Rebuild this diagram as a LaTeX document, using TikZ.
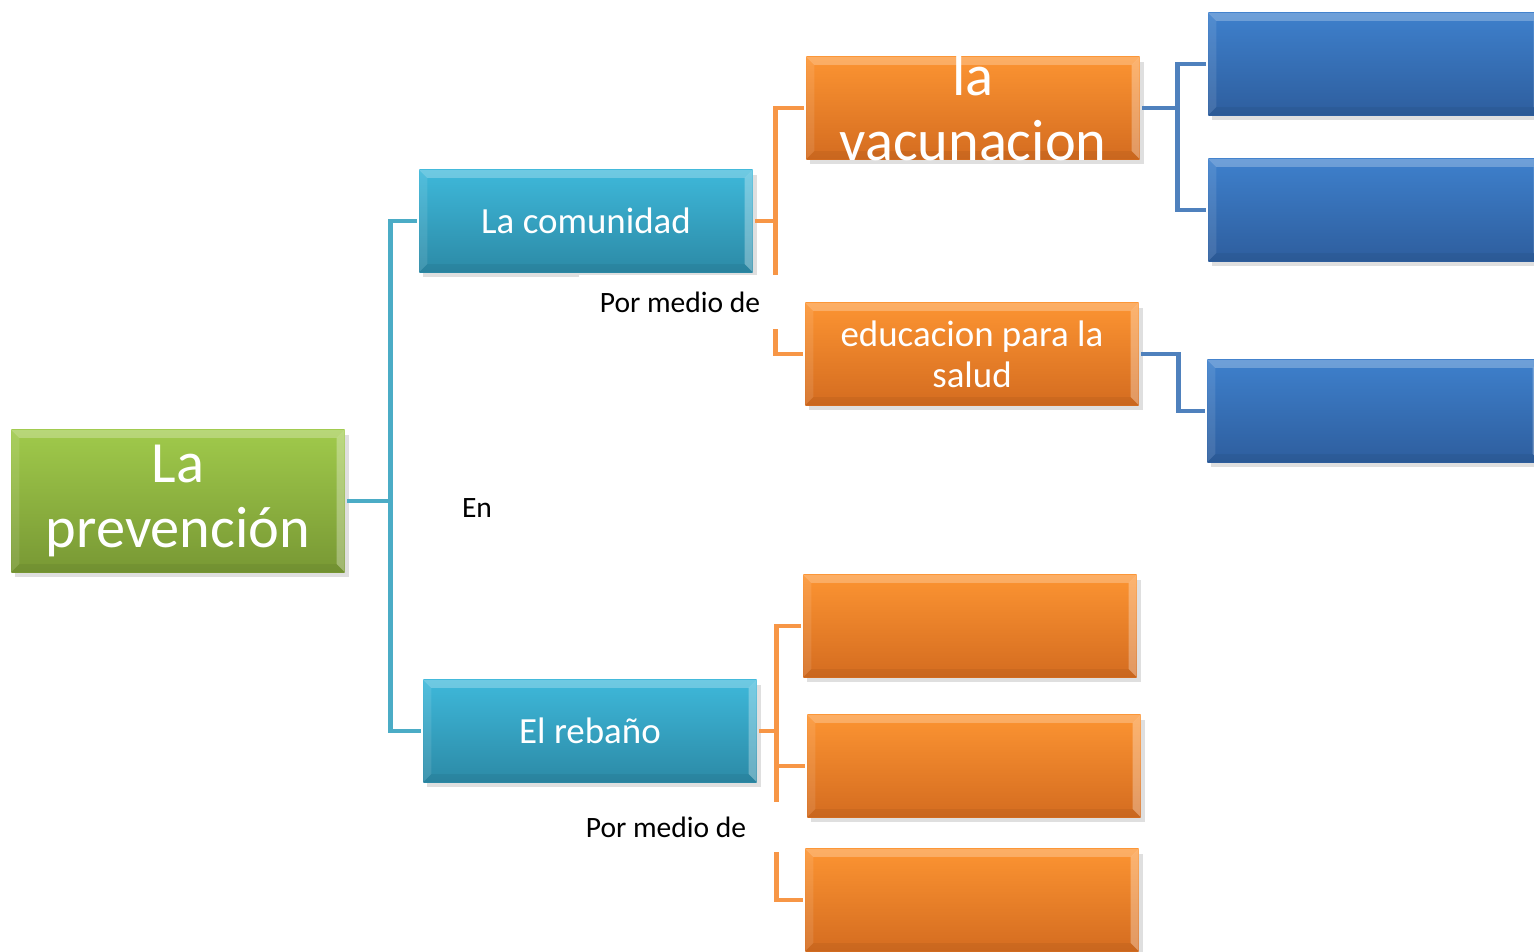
\documentclass[tikz,border=0pt]{standalone}
\usepackage{fontspec}
\setmainfont{Carlito}
\usetikzlibrary{positioning,shadows}

\definecolor{grTop}{RGB}{160,202,75}
\definecolor{grBot}{RGB}{120,152,52}
\definecolor{cyTop}{RGB}{62,184,218}
\definecolor{cyBot}{RGB}{44,138,166}
\definecolor{orTop}{RGB}{252,148,50}
\definecolor{orBot}{RGB}{212,108,32}
\definecolor{blTop}{RGB}{62,128,204}
\definecolor{blBot}{RGB}{46,94,158}
\definecolor{cyLine}{RGB}{75,172,198}
\definecolor{orLine}{RGB}{247,150,70}
\definecolor{blLine}{RGB}{79,129,189}

\begin{document}
\begin{tikzpicture}[
    x = 0.01cm,
    y = -0.01cm,
    line width = 1.4pt,
    bevel/.style = {path picture={
        \coordinate (pnw) at (path picture bounding box.north west);
        \coordinate (pne) at (path picture bounding box.north east);
        \coordinate (pse) at (path picture bounding box.south east);
        \coordinate (psw) at (path picture bounding box.south west);
        \coordinate (inw) at ([shift={(0.8mm,-0.8mm)}]pnw);
        \coordinate (ine) at ([shift={(-0.8mm,-0.8mm)}]pne);
        \coordinate (ise) at ([shift={(-0.8mm,0.8mm)}]pse);
        \coordinate (isw) at ([shift={(0.8mm,0.8mm)}]psw);
        \fill[white, opacity=.25] (pnw) -- (pne) -- (ine) -- (inw) -- cycle;
        \fill[white, opacity=.1] (pnw) -- (inw) -- (isw) -- (psw) -- cycle;
        \fill[white, opacity=.3] (pne) -- (ine) -- (ise) -- (pse) -- cycle;
        \fill[black, opacity=.05] (psw) -- (isw) -- (ise) -- (pse) -- cycle;
    }},
    box/.style = {rectangle, bevel, minimum width=3.33cm, minimum height=1.02cm,
        inner sep=2pt, align=center, text=white,
        font=\fontsize{10.5}{11.6}\selectfont,
        drop shadow={shadow xshift=0.4mm, shadow yshift=-0.5mm, opacity=0.25}},
    greenbox/.style = {box, top color=grTop, bottom color=grBot,
        minimum height=1.42cm, font=\fontsize{16.6}{18.6}\selectfont},
    cyanbox/.style = {box, top color=cyTop, bottom color=cyBot},
    orangebox/.style = {box, top color=orTop, bottom color=orBot},
    bluebox/.style = {box, top color=blTop, bottom color=blBot},
    bigtext/.style = {text=white, align=center, font=\fontsize{16.6}{18.6}\selectfont},
    cyanline/.style = {draw=cyLine},
    orangeline/.style = {draw=orLine},
    blueline/.style = {draw=blLine},
    note/.style = {fill=white, inner sep=0pt, font=\fontsize{8.4}{10}\selectfont}
]
    \clip (0,0) rectangle (1534,952);

    % boxes
    \node[greenbox] (prev) at (178,501) {La\\prevención};
    \node[cyanbox] (com) at (586,221) {La comunidad};
    \node[cyanbox] (reb) at (590,731) {El rebaño};

    \node[orangebox] (vac) at (973,108) {};
    \node[bigtext] (vactxt) at (vac) {la\\vacunacion};
    \node[orangebox] (edu) at (972,354) {educacion para la\\salud};
    \node[orangebox] (o1) at (970,626) {};
    \node[orangebox] (o2) at (974,766) {};
    \node[orangebox] (o3) at (972,900) {};

    \node[bluebox] (b1) at (1375,64) {};
    \node[bluebox] (b2) at (1375,210) {};
    \node[bluebox] (b3) at (1374,411) {};

    % connectors
    \draw[cyanline] (prev.east) -- ++(43,0) coordinate (cy) |- (com.west);
    \draw[cyanline] (cy) |- (reb.west);

    \draw[orangeline] (com.east) -- ++(20,0) coordinate (oc) |- (vac.west);
    \draw[orangeline] (oc) |- (edu.west);

    \draw[blueline] (vac.east) -- ++(35,0) coordinate (bv) |- (b1.west);
    \draw[blueline] (bv) |- (b2.west);
    \draw[blueline] (edu.east) -- ++(37,0) |- (b3.west);

    \draw[orangeline] (reb.east) -- ++(17,0) coordinate (orb) |- (o1.west);
    \draw[orangeline] (orb) |- (o2.west);
    \draw[orangeline] (orb) |- (o3.west);

    % labels
    \node[note, minimum width=2.02cm, minimum height=0.53cm] (pm1) at (680,302) {Por medio de};
    \node[note] (en) at (477,508) {En};
    \node[note, minimum width=2.3cm, minimum height=0.5cm] (pm2) at (666,827) {Por medio de};
\end{tikzpicture}
\end{document}
